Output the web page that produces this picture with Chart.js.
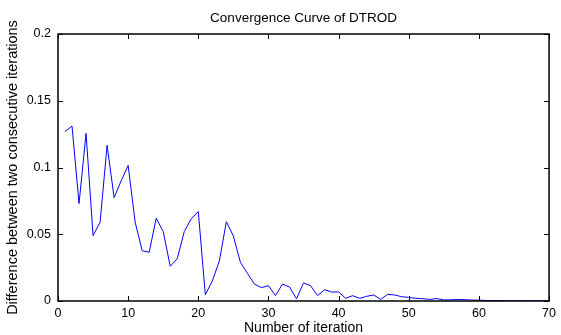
<!DOCTYPE html>
<html>
<head>
<meta charset="utf-8">
<script src="https://cdn.jsdelivr.net/npm/chart.js@4/dist/chart.umd.min.js"></script>
<style>
  html, body { margin: 0; padding: 0; background: #fff; }
  #wrap { width: 561px; height: 335px; }
</style>
</head>
<body>
<div id="wrap"><canvas id="conv"></canvas></div>
<script>
// iteration numbers and the difference between two consecutive iterations
const iterations = [
  1, 2, 3, 4, 5, 6, 7, 8, 9, 10,
  11, 12, 13, 14, 15, 16, 17, 18, 19, 20,
  21, 22, 23, 24, 25, 26, 27, 28, 29, 30,
  31, 32, 33, 34, 35, 36, 37, 38, 39, 40,
  41, 42, 43, 44, 45, 46, 47, 48, 49, 50,
  51, 52, 53, 54, 55, 56, 57, 58, 59, 60,
  61, 62, 63, 64, 65, 66, 67, 68, 69, 70
];
const differences = [
  0.127, 0.131, 0.073, 0.1256, 0.049, 0.059, 0.1166, 0.0774, 0.090, 0.1016,
  0.059, 0.0377, 0.0365, 0.062, 0.052, 0.026, 0.0317, 0.052, 0.0617, 0.067,
  0.0047, 0.015, 0.030, 0.0594, 0.0487, 0.029, 0.0207, 0.0127, 0.010, 0.0115,
  0.004, 0.0127, 0.0105, 0.0017, 0.0135, 0.0115, 0.004, 0.0085, 0.0067, 0.0068,
  0.002, 0.004, 0.002, 0.0035, 0.0045, 0.0012, 0.005, 0.0045, 0.0032, 0.0027,
  0.002, 0.0017, 0.0012, 0.0018, 0.0008, 0.0009, 0.0011, 0.0010, 0.0007, 0.0006,
  0.0004, 0.0003, 0.0003, 0.0002, 0.0002, 0.0002, 0.0001, 0.0001, 0.0001, 0.0001
];
const xTicks = [0, 10, 20, 30, 40, 50, 60, 70];
const yTicks = [0, 0.05, 0.1, 0.15, 0.2];

const chartTitle = "Convergence Curve of DTROD";
const xLabel = "Number of iteration";
const yLabel = "Difference between two consecutive iterations";

const fontFamily = "'Liberation Sans', Arial, Helvetica, sans-serif";

// matlab style box with inward ticks, plus the title over the axes
const boxPlugin = {
  id: "matlabBox",
  afterDraw(chart) {
    const ctx = chart.ctx;
    const a = chart.chartArea;
    const xs = chart.scales.x;
    const ys = chart.scales.y;
    ctx.save();
    ctx.strokeStyle = "#000";
    ctx.lineWidth = 1.5;
    ctx.strokeRect(a.left, a.top, a.right - a.left, a.bottom - a.top);
    ctx.lineWidth = 1;
    ctx.beginPath();
    xTicks.forEach(v => {
      let px = Math.round(xs.getPixelForValue(v)) + 0.5;
      ctx.moveTo(px, a.bottom);
      ctx.lineTo(px, a.bottom - 5);
      ctx.moveTo(px, a.top);
      ctx.lineTo(px, a.top + 5);
    });
    yTicks.forEach(v => {
      let py = Math.round(ys.getPixelForValue(v)) + 0.5;
      ctx.moveTo(a.left, py);
      ctx.lineTo(a.left + 5, py);
      ctx.moveTo(a.right, py);
      ctx.lineTo(a.right - 5, py);
    });
    ctx.stroke();

    ctx.fillStyle = "#000";
    ctx.font = "13.5px " + fontFamily;
    ctx.textAlign = "center";
    ctx.textBaseline = "middle";
    ctx.fillText(chartTitle, (a.left + a.right) / 2, 18);
    ctx.restore();
  }
};

new Chart(document.getElementById("conv"), {
  type: "line",
  data: {
    datasets: [{
      data: iterations.map((it, i) => ({ x: it, y: differences[i] })),
      borderColor: "#0000ff",
      borderWidth: 1,
      pointRadius: 0,
      fill: false,
      tension: 0
    }]
  },
  options: {
    responsive: true,
    maintainAspectRatio: false,
    animation: false,
    layout: { padding: { top: 34, right: 0, left: 0, bottom: 0 } },
    plugins: {
      legend: { display: false },
      tooltip: { enabled: false },
      title: { display: false }
    },
    scales: {
      x: {
        type: "linear",
        min: 0,
        max: 70,
        afterBuildTicks: s => { s.ticks = xTicks.map(v => ({ value: v })); },
        grid: { display: false, drawTicks: false },
        border: { display: false },
        ticks: {
          color: "#000",
          padding: 5,
          maxRotation: 0,
          font: { family: fontFamily, size: 12.5 }
        },
        title: {
          display: true,
          text: xLabel,
          color: "#000",
          font: { family: fontFamily, size: 14, lineHeight: 1 },
          padding: { top: 0, bottom: 0 }
        },
        afterFit: s => { s.height = 34; }
      },
      y: {
        min: 0,
        max: 0.2,
        afterBuildTicks: s => { s.ticks = yTicks.map(v => ({ value: v })); },
        grid: { display: false, drawTicks: false },
        border: { display: false },
        ticks: {
          color: "#000",
          padding: 7,
          font: { family: fontFamily, size: 12.5 },
          callback: v => String(Number(v.toFixed(2)))
        },
        title: {
          display: true,
          text: yLabel,
          color: "#000",
          font: { family: fontFamily, size: 14.5, lineHeight: 1 },
          padding: { top: 6, bottom: 0 }
        },
        afterFit: s => { s.width = 58; }
      }
    }
  },
  plugins: [boxPlugin]
});
</script>
</body>
</html>
